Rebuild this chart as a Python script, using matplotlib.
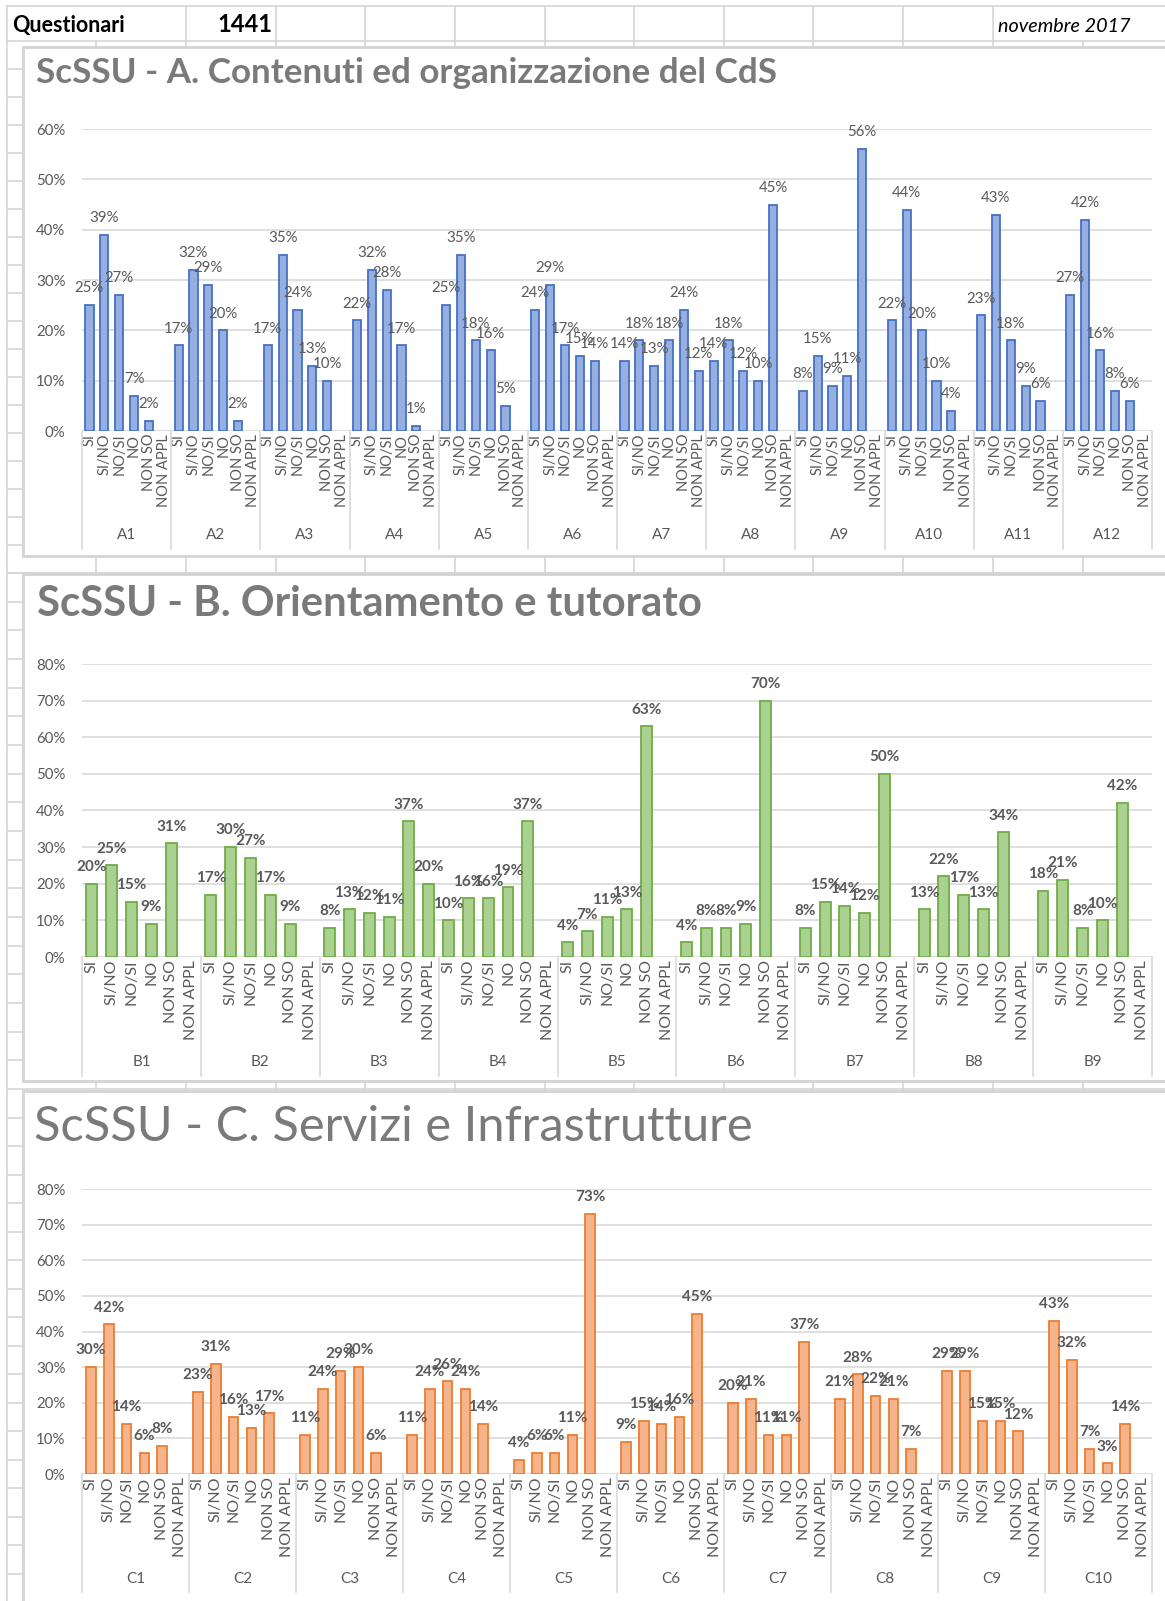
import numpy as np
import matplotlib
matplotlib.use("Agg")
import matplotlib.pyplot as plt
from matplotlib.patches import Rectangle
from matplotlib.transforms import blended_transform_factory

plt.rcParams['font.family'] = ['Lato', 'DejaVu Sans']

# ---------------- data ----------------
answers = ["SI", "SI/NO", "NO/SI", "NO", "NON SO", "NON APPL"]

groups_a = ["A1", "A2", "A3", "A4", "A5", "A6", "A7", "A8", "A9", "A10", "A11", "A12"]
a_si       = [25, 17, 17, 22, 25, 24, 14, 14, 8, 22, 23, 27]
a_si_no    = [39, 32, 35, 32, 35, 29, 18, 18, 15, 44, 43, 42]
a_no_si    = [27, 29, 24, 28, 18, 17, 13, 12, 9, 20, 18, 16]
a_no       = [7, 20, 13, 17, 16, 15, 18, 10, 11, 10, 9, 8]
a_non_so   = [2, 2, 10, 1, 5, 14, 24, 45, 56, 4, 6, 6]
a_non_appl = [None, None, None, None, None, None, 12, None, None, None, None, None]

groups_b = ["B1", "B2", "B3", "B4", "B5", "B6", "B7", "B8", "B9"]
b_si       = [20, 17, 8, 10, 4, 4, 8, 13, 18]
b_si_no    = [25, 30, 13, 16, 7, 8, 15, 22, 21]
b_no_si    = [15, 27, 12, 16, 11, 8, 14, 17, 8]
b_no       = [9, 17, 11, 19, 13, 9, 12, 13, 10]
b_non_so   = [31, 9, 37, 37, 63, 70, 50, 34, 42]
b_non_appl = [None, None, 20, None, None, None, None, None, None]

groups_c = ["C1", "C2", "C3", "C4", "C5", "C6", "C7", "C8", "C9", "C10"]
c_si       = [30, 23, 11, 11, 4, 9, 20, 21, 29, 43]
c_si_no    = [42, 31, 24, 24, 6, 15, 21, 28, 29, 32]
c_no_si    = [14, 16, 29, 26, 6, 14, 11, 22, 15, 7]
c_no       = [6, 13, 30, 24, 11, 16, 11, 21, 15, 3]
c_non_so   = [8, 17, 6, 14, 73, 45, 37, 7, 12, 14]
c_non_appl = [None, None, None, None, None, None, None, None, None, None]

header_label = "Questionari"
header_count = "1441"
header_date = "novembre 2017"

title_a = "ScSSU - A. Contenuti ed organizzazione del CdS"
title_b = "ScSSU - B. Orientamento e tutorato"
title_c = "ScSSU - C. Servizi e Infrastrutture"

# ---------------- layout ----------------
W, H = 1165, 1601
fig = plt.figure(figsize=(W / 100, H / 100), dpi=100)
fig.patch.set_facecolor("white")

bg = fig.add_axes([0, 0, 1, 1], zorder=0)
bg.set_xlim(0, W)
bg.set_ylim(H, 0)
bg.axis("off")

GRID = "#d6d6d6"
TXT = "#595959"

def px_rect(x0, y0, x1, y1):
    return [x0 / W, 1 - y1 / H, (x1 - x0) / W, (y1 - y0) / H]

# spreadsheet grid
cols = [7, 96, 186, 276, 365, 455, 545, 634, 724, 813, 903, 993, 1083]
top_cols = [7, 186, 276, 365, 455, 545, 634, 724, 813, 903, 993]
for x in top_cols:
    bg.plot([x, x], [6, 41], color=GRID, lw=1.2, zorder=1)
for x in cols:
    bg.plot([x, x], [41, H], color=GRID, lw=1.2, zorder=1)
rows = [6] + list(41 + 28 * np.arange(20)) + \
    list(np.linspace(573, 1089, 19)) + list(1089 + 28.5 * np.arange(1, 19))
for y in rows:
    bg.plot([7, W], [y, y], color=GRID, lw=1.2, zorder=1)

renderer = fig.canvas.get_renderer()

def fit_text(x, y, s, target_w, **kw):
    t = bg.text(x, y, s, ha="left", va="center", fontsize=12, zorder=5, **kw)
    bb = t.get_window_extent(renderer)
    t.set_fontsize(12 * target_w / bb.width)
    return t

# header row
fit_text(12, 25, header_label, 112, fontweight="bold", color="black")
fit_text(217, 24, header_count, 55, fontweight="bold", color="black")
fit_text(998, 26, header_date, 132, style="italic", color="black")


def section(box, plot, groups, series, ymax, title, title_xy, title_w, title_weight,
            group_bottom, group_label_y, edge, fill, label_weight, label_size,
            tick_size):
    bx0, by0, bx1, by1 = box
    bg.add_patch(Rectangle((bx0, by0), bx1 - bx0, by1 - by0, facecolor="white",
                           edgecolor="#d4d4d4", lw=2, zorder=2))
    fit_text(title_xy[0], title_xy[1], title, title_w, fontweight=title_weight,
             color="#7a7a7a")

    ax = fig.add_axes(px_rect(*plot), zorder=3)
    ax.set_facecolor("none")
    n = len(groups)
    k = len(series)
    for j, vals in enumerate(series):
        xs = np.arange(n) * k + j
        h = np.array([np.nan if v is None else v for v in vals], dtype=float)
        bars = ax.bar(xs, h, width=0.55, color=fill, edgecolor=edge, linewidth=1.3,
                      zorder=3)
        labels = ["" if v is None else f"{v}%" for v in vals]
        ax.bar_label(bars, labels=labels, padding=7, color=TXT, fontsize=label_size,
                     fontweight=label_weight, zorder=4)
    ax.set_xlim(-0.5, n * k - 0.5)
    ax.set_ylim(0, ymax)
    yt = np.arange(0, ymax + 1, 10)
    ax.set_yticks(yt)
    ax.set_yticklabels([f"{v}%" for v in yt], color=TXT, fontsize=10.8)
    ax.set_xticks(np.arange(n * k))
    ax.set_xticklabels(answers * n, rotation=90, ha="center", va="top",
                       color=TXT, fontsize=tick_size)
    ax.tick_params(length=0)
    ax.tick_params(axis="y", pad=12)
    ax.tick_params(axis="x", pad=2)
    for s in ax.spines.values():
        s.set_visible(False)
    ax.yaxis.grid(True, color="#d9d9d9", lw=1.2)
    ax.set_axisbelow(True)

    trans = blended_transform_factory(ax.transData, bg.transData)
    for g in range(n + 1):
        xb = g * k - 0.5
        ax.plot([xb, xb], [plot[3], group_bottom], color="#d9d9d9", lw=1.2,
                transform=trans, clip_on=False, zorder=2)
    for g, name in enumerate(groups):
        ax.text(g * k + (k - 1) / 2, group_label_y, name, transform=trans,
                ha="center", va="center", color=TXT, fontsize=11)
    return ax


section((23, 47, W + 10, 556), (82, 129, 1152, 431), groups_a,
        [a_si, a_si_no, a_no_si, a_no, a_non_so, a_non_appl], 60,
        title_a, (36, 73), 737, "bold", 549, 535,
        "#4472C4", "#97AEE0", "normal", 10.8, 10.5)

section((23, 574, W + 10, 1081), (82, 664, 1152, 957), groups_b,
        [b_si, b_si_no, b_no_si, b_no, b_non_so, b_non_appl], 80,
        title_b, (37, 604), 662, "bold", 1076, 1062,
        "#70AD47", "#ABD190", "bold", 11, 11.5)

section((23, 1091, W + 10, H + 10), (82, 1189, 1152, 1474), groups_c,
        [c_si, c_si_no, c_no_si, c_no, c_non_so, c_non_appl], 80,
        title_c, (34, 1127), 716, "normal", 1592, 1579,
        "#ED7D31", "#F5B48C", "bold", 11, 11.5)

fig.savefig("out.png", dpi=100, facecolor="white")
